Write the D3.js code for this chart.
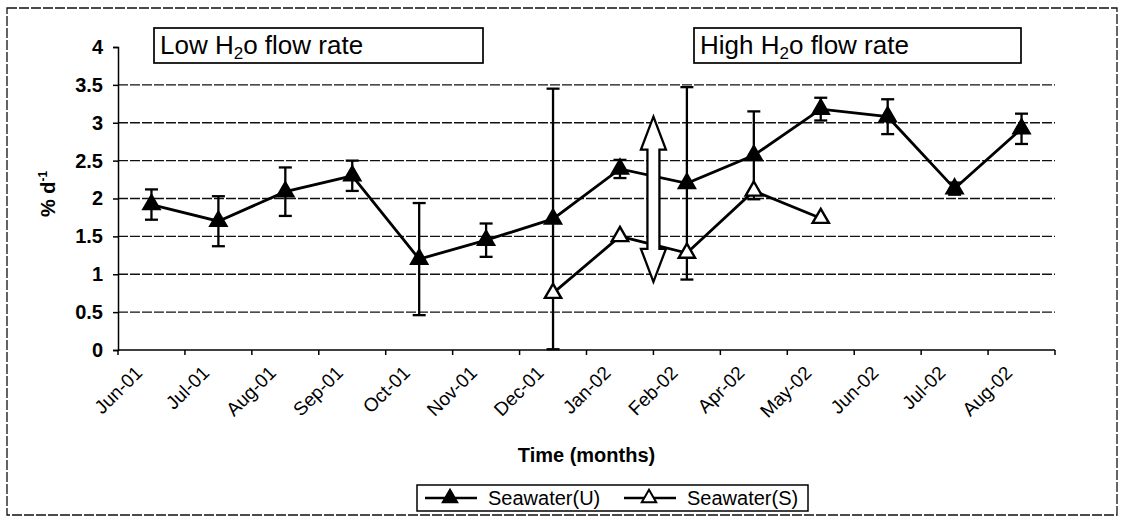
<!DOCTYPE html>
<html>
<head>
<meta charset="utf-8">
<script src="https://cdn.jsdelivr.net/npm/d3@7"></script>
<style>
  body { margin: 0; background: #fff; }
  svg { display: block; font-family: "Liberation Sans", Arial, sans-serif; }
</style>
</head>
<body>
<svg id="chart" width="1124" height="519"></svg>
<script>
// data
var months = ["Jun-01","Jul-01","Aug-01","Sep-01","Oct-01","Nov-01","Dec-01",
              "Jan-02","Feb-02","Apr-02","May-02","Jun-02","Jul-02","Aug-02"];
var seawaterU    = [1.92, 1.70, 2.09, 2.30, 1.20, 1.45, 1.73, 2.39, 2.20, 2.57, 3.18, 3.08, 2.13, 2.92];
var seawaterUErr = [0.20, 0.33, 0.32, 0.20, 0.74, 0.22, 1.72, 0.12, 1.27, 0.58, 0.15, 0.23, 0.08, 0.20];
var seawaterS    = [null, null, null, null, null, null, 0.75, 1.50, 1.28, 2.10, 1.74, null, null, null];
var yTicks = [0, 0.5, 1, 1.5, 2, 2.5, 3, 3.5, 4];
var arrowSpan = [0.9, 3.08]; // double arrow between Jan-02 and Feb-02

var svg = d3.select("#chart");

var plot = {left: 118, right: 1055, top: 47, bottom: 350};

var x = d3.scaleBand().domain(months).range([plot.left, plot.right]).padding(0);
var y = d3.scaleLinear().domain([0, 4]).range([plot.bottom, plot.top]);
var cx = function (m) { return x(m) + x.bandwidth() / 2; };

// outer frame
svg.append("rect")
  .attr("x", 7).attr("y", 8).attr("width", 1110).attr("height", 507)
  .attr("fill", "none").attr("stroke", "#111").attr("stroke-width", 1.3)
  .attr("stroke-dasharray", "10 2");

// gridlines
svg.append("g").selectAll("line")
  .data(yTicks.filter(function (d) { return d > 0 && d < 4; }))
  .join("line")
  .attr("x1", plot.left).attr("x2", plot.right)
  .attr("y1", function (d) { return y(d); }).attr("y2", function (d) { return y(d); })
  .attr("stroke", "#111").attr("stroke-width", 1.3)
  .attr("stroke-dasharray", "10 2");

// y axis
var yAxis = svg.append("g")
  .attr("transform", "translate(" + plot.left + ",0)")
  .call(d3.axisLeft(y).tickValues(yTicks).tickSize(5).tickPadding(10)
        .tickFormat(function (d) { return d; }));
yAxis.select(".domain").attr("stroke", "#000").attr("stroke-width", 1.5);
yAxis.selectAll(".tick line").attr("stroke", "#000").attr("stroke-width", 1.5);
yAxis.selectAll("text")
  .attr("font-size", 20).attr("font-weight", "bold").attr("fill", "#000")
  .attr("font-family", "Liberation Sans, Arial, sans-serif");

// x axis: ticks at category boundaries
var xg = svg.append("g");
xg.append("line")
  .attr("x1", plot.left).attr("x2", plot.right)
  .attr("y1", plot.bottom).attr("y2", plot.bottom)
  .attr("stroke", "#000").attr("stroke-width", 1.5);
xg.selectAll("line.tk")
  .data(months.map(function (m) { return x(m); }).concat([plot.right]))
  .join("line").attr("class", "tk")
  .attr("x1", function (d) { return d; }).attr("x2", function (d) { return d; })
  .attr("y1", plot.bottom).attr("y2", plot.bottom + 5)
  .attr("stroke", "#000").attr("stroke-width", 1.5);
xg.selectAll("text")
  .data(months)
  .join("text")
  .attr("transform", function (m) { return "translate(" + (cx(m) - 8) + ",374) rotate(-45)"; })
  .attr("text-anchor", "end")
  .attr("font-size", 19)
  .attr("fill", "#000")
  .text(function (m) { return m; });

// axis titles
svg.append("text")
  .attr("x", (plot.left + plot.right) / 2).attr("y", 462)
  .attr("text-anchor", "middle").attr("font-size", 20).attr("font-weight", "bold")
  .text("Time (months)");

var yl = svg.append("text")
  .attr("transform", "translate(55,194) rotate(-90)")
  .attr("text-anchor", "middle").attr("font-size", 20).attr("font-weight", "bold");
yl.append("tspan").text("% d");
yl.append("tspan").attr("font-size", 12).attr("dy", -8).text("-1");

// lines
var lineU = d3.line()
  .x(function (d, i) { return cx(months[i]); })
  .y(function (d) { return y(d); });
var lineS = d3.line()
  .defined(function (d) { return d !== null; })
  .x(function (d, i) { return cx(months[i]); })
  .y(function (d) { return y(d); });

svg.append("path").datum(seawaterU)
  .attr("d", lineU).attr("fill", "none").attr("stroke", "#000").attr("stroke-width", 2.8);
svg.append("path").datum(seawaterS)
  .attr("d", lineS).attr("fill", "none").attr("stroke", "#000").attr("stroke-width", 2.8);

// error bars (Seawater U)
var eb = svg.append("g").attr("stroke", "#000").attr("stroke-width", 2.3);
seawaterU.forEach(function (v, i) {
  var xc = cx(months[i]);
  var hi = y(v + seawaterUErr[i]), lo = y(Math.max(0, v - seawaterUErr[i]));
  eb.append("line").attr("x1", xc).attr("x2", xc).attr("y1", hi).attr("y2", lo);
  eb.append("line").attr("x1", xc - 6.5).attr("x2", xc + 6.5).attr("y1", hi).attr("y2", hi);
  eb.append("line").attr("x1", xc - 6.5).attr("x2", xc + 6.5).attr("y1", lo).attr("y2", lo);
});

// markers
var tri = d3.symbol().type(d3.symbolTriangle).size(125);
svg.append("g").selectAll("path")
  .data(seawaterU)
  .join("path")
  .attr("transform", function (d, i) { return "translate(" + cx(months[i]) + "," + y(d) + ")"; })
  .attr("d", tri).attr("fill", "#000").attr("stroke", "#000").attr("stroke-width", 1.8);

var sPts = seawaterS.map(function (v, i) { return {v: v, m: months[i]}; })
  .filter(function (d) { return d.v !== null; });
svg.append("g").selectAll("path")
  .data(sPts)
  .join("path")
  .attr("transform", function (d) { return "translate(" + cx(d.m) + "," + y(d.v) + ")"; })
  .attr("d", d3.symbol().type(d3.symbolTriangle).size(115))
  .attr("fill", "#fff").attr("stroke", "#000").attr("stroke-width", 2.4);

// double-headed arrow
(function () {
  var ax = x("Feb-02");
  var yt = y(arrowSpan[1]), yb = y(arrowSpan[0]);
  var hh = 33, hw = 12.5, sw = 6;
  var pts = [
    [ax, yt], [ax + hw, yt + hh], [ax + sw, yt + hh], [ax + sw, yb - hh], [ax + hw, yb - hh],
    [ax, yb], [ax - hw, yb - hh], [ax - sw, yb - hh], [ax - sw, yt + hh], [ax - hw, yt + hh]
  ];
  svg.append("path")
    .attr("d", "M" + pts.map(function (p) { return p.join(","); }).join("L") + "Z")
    .attr("fill", "#fff").attr("stroke", "#000").attr("stroke-width", 2.3)
    .attr("stroke-linejoin", "miter");
})();

// annotation boxes
function noteBox(x0, w, label1, label2) {
  var g = svg.append("g");
  g.append("rect").attr("x", x0).attr("y", 28).attr("width", w).attr("height", 35)
    .attr("fill", "#fff").attr("stroke", "#000").attr("stroke-width", 1.7);
  var t = g.append("text").attr("x", x0 + 6).attr("y", 54).attr("font-size", 26);
  t.append("tspan").text(label1 + " H");
  t.append("tspan").attr("font-size", 17).attr("dy", 5).text("2");
  t.append("tspan").attr("dy", -5).text(label2);
}
noteBox(154, 329, "Low", "o flow rate");
noteBox(694, 327, "High", "o flow rate");

// legend
var lg = svg.append("g");
lg.append("rect").attr("x", 417).attr("y", 485).attr("width", 391).attr("height", 26)
  .attr("fill", "#fff").attr("stroke", "#000").attr("stroke-width", 1.5);
var legendItems = [
  {label: "Seawater(U)", x0: 425, fill: "#000"},
  {label: "Seawater(S)", x0: 624, fill: "#fff"}
];
legendItems.forEach(function (it) {
  lg.append("line").attr("x1", it.x0).attr("x2", it.x0 + 52).attr("y1", 498).attr("y2", 498)
    .attr("stroke", "#000").attr("stroke-width", 2.6);
  lg.append("path").attr("transform", "translate(" + (it.x0 + 25) + ",498)")
    .attr("d", d3.symbol().type(d3.symbolTriangle).size(90))
    .attr("fill", it.fill).attr("stroke", "#000").attr("stroke-width", 2);
  lg.append("text").attr("x", it.x0 + 63).attr("y", 505).attr("font-size", 20)
    .text(it.label);
});
</script>
</body>
</html>
